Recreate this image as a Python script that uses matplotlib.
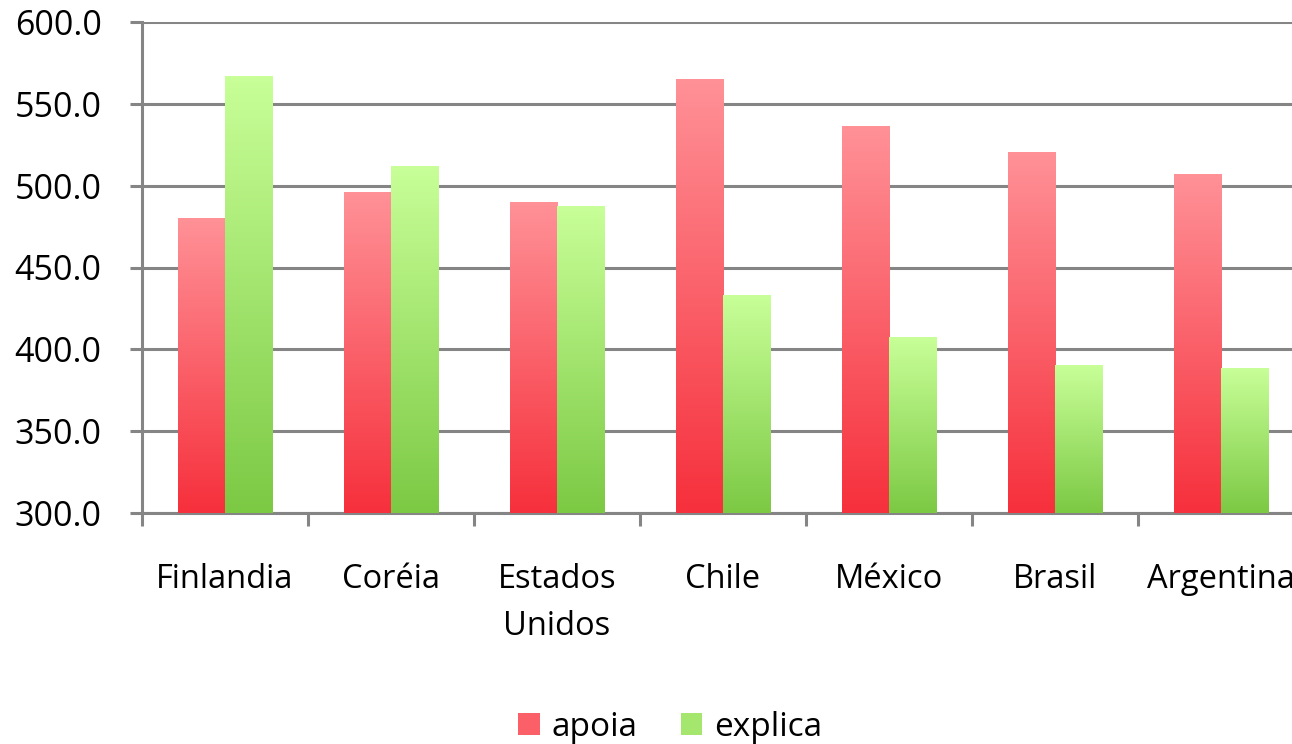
import numpy as np
import matplotlib.pyplot as plt
from matplotlib.colors import LinearSegmentedColormap
from matplotlib.patches import Patch

countries = ['Finlandia', 'Coréia', 'Estados\nUnidos', 'Chile', 'México', 'Brasil', 'Argentina']
apoia = [480, 496, 490, 565, 536, 520, 507]
explica = [567, 512, 487, 433, 407, 390, 388]
yticks = [300, 350, 400, 450, 500, 550, 600]

plt.rcParams['font.family'] = ['Open Sans', 'DejaVu Sans']

red_cmap = LinearSegmentedColormap.from_list('red', ['#f6303c', '#ff9197'])
green_cmap = LinearSegmentedColormap.from_list('green', ['#7cc944', '#c8ff98'])
grid_col = '#858585'

fig = plt.figure(figsize=(12.92, 7.44), dpi=100)
ax = fig.add_axes([142 / 1292, 1 - 513 / 744, 1162 / 1292, 491 / 744])

ymin, ymax = 300, 600

w = 0.285
grad = np.linspace(0, 1, 256).reshape(-1, 1)


def gradient_bar(x0, top, cmap):
    # vertical gradient, darker at the bottom
    ax.imshow(grad, cmap=cmap, origin='lower', aspect='auto',
              extent=[x0, x0 + w, ymin, top], zorder=3, interpolation='bilinear')


for i in range(len(countries)):
    c = i + 0.5
    gradient_bar(c - w, apoia[i], red_cmap)
    gradient_bar(c, explica[i], green_cmap)

ax.set_xlim(0, len(countries))
ax.set_ylim(ymin, ymax)

# gridlines
ax.set_yticks(yticks)
ax.set_yticklabels([f'{v:.1f}' for v in yticks])
ax.yaxis.grid(True, color=grid_col, linewidth=2.2, zorder=1)
ax.set_axisbelow(True)

ax.set_xticks(np.arange(len(countries)) + 0.5)
ax.set_xticklabels(countries, fontsize=23.5, linespacing=1.55)
ax.set_xticks(np.arange(len(countries) + 1), minor=True)
ax.tick_params(axis='x', which='major', length=0, pad=36)
ax.tick_params(axis='x', which='minor', length=9, width=2.2, color=grid_col, direction='out')
ax.tick_params(axis='y', length=9, width=2.2, color=grid_col, pad=20, labelsize=24.5)

for s in ['top', 'right']:
    ax.spines[s].set_visible(False)
for s in ['left', 'bottom']:
    ax.spines[s].set_color(grid_col)
    ax.spines[s].set_linewidth(2.2)

handles = [Patch(facecolor='#fb5f68', label='apoia'),
           Patch(facecolor='#a4e66e', label='explica')]
fig.legend(handles=handles, loc='center', bbox_to_anchor=(670 / 1292, 1 - 727 / 744),
           ncol=2, frameon=False, fontsize=24, handlelength=0.65, handleheight=0.65,
           handletextpad=0.35, columnspacing=1.3)

fig.savefig('out.png', dpi=100)
